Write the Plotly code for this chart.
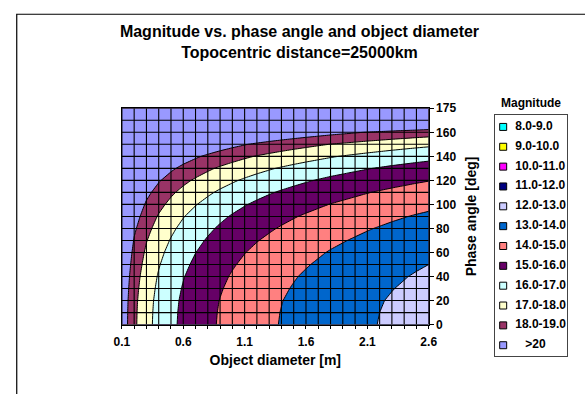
import plotly.graph_objects as go

# ---------------- data ----------------
diameters = [0.1, 0.2, 0.3, 0.4, 0.5, 0.6, 0.7, 0.8, 0.9, 1.0, 1.1, 1.2, 1.3,
             1.4, 1.5, 1.6, 1.7, 1.8, 1.9, 2.0, 2.1, 2.2, 2.3, 2.4, 2.5, 2.6]
phase_angles = [0, 10, 20, 30, 40, 50, 60, 70, 80, 90, 100, 110, 120, 130,
                140, 150, 160, 170, 175]
# apparent magnitude at zero phase angle for each diameter
mag_zero_phase = [19.69, 18.19, 17.30, 16.68, 16.20, 15.80, 15.47, 15.18, 14.92,
                  14.69, 14.48, 14.29, 14.12, 13.96, 13.81, 13.67, 13.54, 13.41,
                  13.30, 13.19, 13.08, 12.98, 12.88, 12.79, 12.70, 12.62]
# extra dimming (mag) for each phase angle
phase_dimming = [0.00, 0.02, 0.06, 0.14, 0.24, 0.38, 0.54, 0.74, 0.97, 1.24,
                 1.57, 1.95, 2.41, 2.96, 3.66, 4.57, 5.88, 8.12, 10.38]
band_labels = ["8.0-9.0", "9.0-10.0", "10.0-11.0", "11.0-12.0", "12.0-13.0",
               "13.0-14.0", "14.0-15.0", "15.0-16.0", "16.0-17.0", "17.0-18.0",
               "18.0-19.0", ">20"]
band_colors = ["#00FFFF", "#FFFF00", "#FF00FF", "#000080", "#CCCCFF", "#0066CC",
               "#FF8080", "#660066", "#CCFFFF", "#FFFFCC", "#993366", "#9999FF"]
level_start, level_end, level_step = 8, 19, 1
x_label_every = 5
y_labels_shown = [0, 20, 40, 60, 80, 100, 120, 140, 160, 175]

# ---------------- derived tables ----------------
W, H = 585, 394
FONT = "Liberation Sans, Arial, sans-serif"
NB = "\u00a0"

phase_pos = list(range(len(phase_angles)))
z = [[m + d for m in mag_zero_phase] for d in phase_dimming]

n = len(band_colors)
colorscale = [[0.0, band_colors[0]]] + [[(k + 1) / n, c] for k, c in enumerate(band_colors)]

x_ticktext = [f"{d:.1f}" if i % x_label_every == 0 else "" for i, d in enumerate(diameters)]
y_tickvals = [phase_angles.index(p) for p in y_labels_shown]
y_ticktext = [str(p) for p in y_labels_shown]

legend_text = [NB * 2 + t if t[0].isdigit() else NB * 5 + t for t in band_labels]

gx, gy = [], []
for d in diameters:
    gx += [d, d, None]
    gy += [phase_pos[0], phase_pos[-1], None]
for p in phase_pos:
    gx += [diameters[0], diameters[-1], None]
    gy += [p, p, None]

fig = go.Figure()
fig.add_trace(go.Contour(
    x=diameters, y=phase_pos, z=z,
    autocontour=False,
    contours=dict(start=level_start, end=level_end, size=level_step,
                  coloring="fill", showlines=True),
    line=dict(color="black", width=1, smoothing=0),
    colorscale=colorscale, showscale=False, hoverinfo="skip",
))
fig.add_trace(go.Scatter(
    x=gx, y=gy, mode="lines", line=dict(color="black", width=1.1),
    hoverinfo="skip", showlegend=False,
))
# legend drawn as its own small panel
fig.add_trace(go.Scatter(
    x=[0] * n, y=band_labels, xaxis="x2", yaxis="y2",
    mode="markers+text",
    marker=dict(symbol="square", size=7, color=band_colors,
                line=dict(color="black", width=1)),
    text=legend_text, textposition="middle right",
    textfont=dict(family=FONT, size=12, color="black", weight="bold"),
    hoverinfo="skip", showlegend=False, cliponaxis=False,
))

tickfont = dict(family=FONT, size=12, color="black", weight="bold")
fig.update_layout(
    width=W, height=H,
    margin=dict(l=0, r=0, t=0, b=0),
    paper_bgcolor="white", plot_bgcolor="white",
    showlegend=False,
    title=dict(text="Magnitude vs. phase angle and object diameter<br>Topocentric distance=25000km",
               font=dict(family=FONT, size=16, color="black", weight="bold"),
               x=299.5 / W, xref="container", xanchor="center",
               y=1 - 37 / H, yref="container", yanchor="top"),
    xaxis=dict(domain=[117.3 / W, 433.3 / W], range=[diameters[0], diameters[-1]],
               tickmode="array", tickvals=diameters, ticktext=x_ticktext,
               ticks="outside", ticklen=3, tickwidth=1, tickcolor="black",
               ticklabelstandoff=3,
               tickfont=tickfont, showgrid=False, zeroline=False,
               showline=True, linecolor="black", linewidth=1, mirror=True,
               automargin=True,
               title=dict(text="Object diameter [m]", standoff=7,
                          font=dict(family=FONT, size=14, color="black", weight="bold"))),
    yaxis=dict(domain=[(H - 329.3) / H, (H - 105) / H], range=[phase_pos[0], phase_pos[-1]],
               side="right", tickmode="array", tickvals=y_tickvals, ticktext=y_ticktext,
               ticks="outside", ticklen=4, tickwidth=1, tickcolor="black",
               tickfont=tickfont, showgrid=False, zeroline=False,
               showline=True, linecolor="black", linewidth=1, mirror=True,
               automargin=True,
               title=dict(text="Phase angle [deg]", standoff=10,
                          font=dict(family=FONT, size=14, color="black", weight="bold"))),
    xaxis2=dict(domain=[502 / W, 576 / W], range=[-0.108, 0.892], anchor="y2",
                showticklabels=False, ticks="", showgrid=False, zeroline=False,
                showline=True, linecolor="#444", linewidth=1, mirror=True, fixedrange=True),
    yaxis2=dict(domain=[(H - 362) / H, (H - 112) / H], type="category",
                range=[len(band_labels) - 1 + 0.55, -0.6], anchor="x2",
                showticklabels=False, ticks="", showgrid=False, zeroline=False,
                showline=True, linecolor="#444", linewidth=1, mirror=True, fixedrange=True),
    annotations=[dict(text="Magnitude", xref="x2 domain", yref="y2 domain",
                      x=0.5, y=1, xanchor="center", yanchor="bottom", yshift=3,
                      showarrow=False,
                      font=dict(family=FONT, size=12, color="black", weight="bold"))],
    shapes=[dict(type="rect", xref="paper", yref="paper",
                 x0=9 / W, x1=1.05, y0=-0.05, y1=1 - 7.5 / H,
                 line=dict(color="black", width=1.2), layer="below")],
)

fig.write_html("out.html")
